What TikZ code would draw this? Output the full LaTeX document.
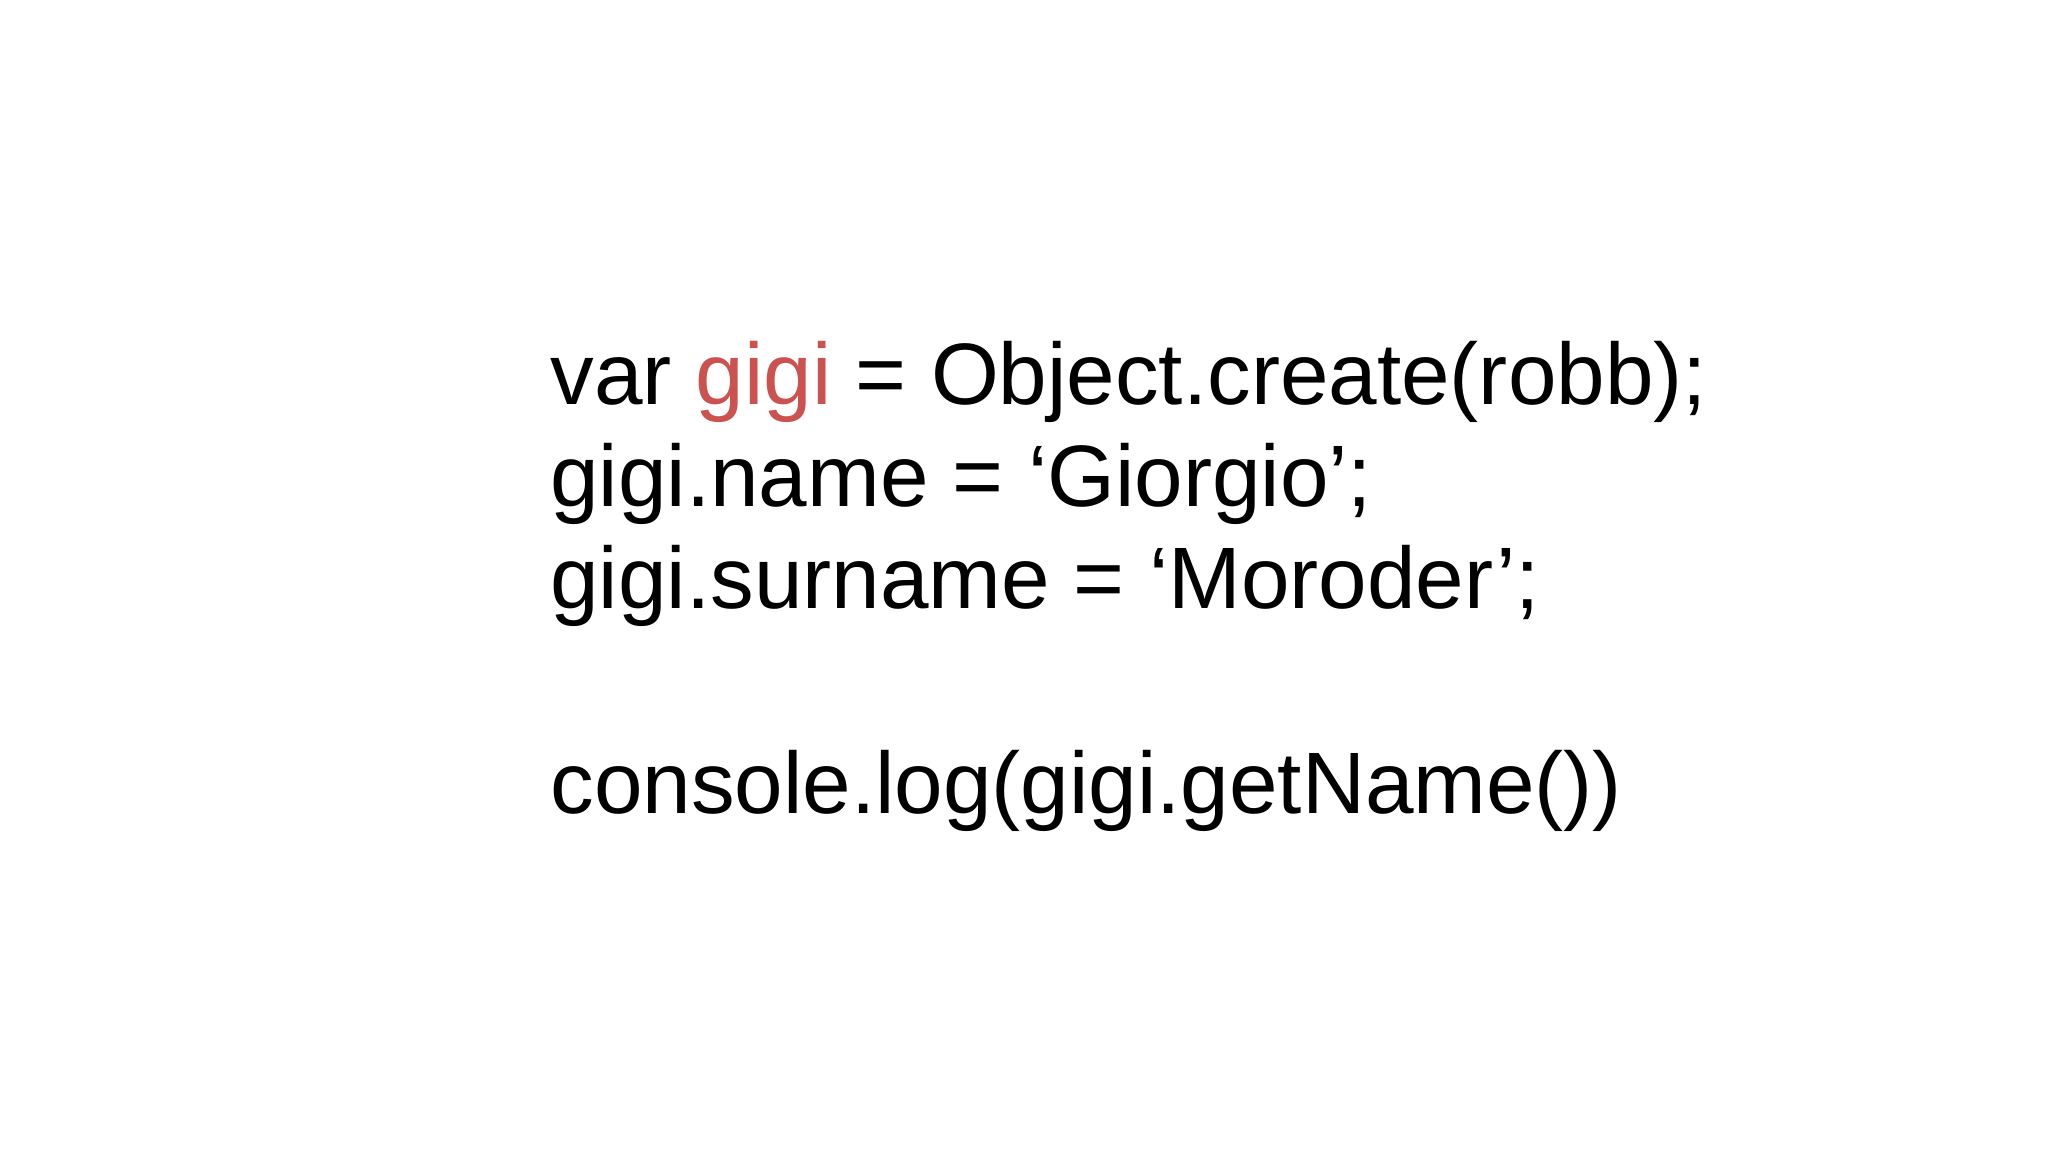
\documentclass[tikz,border=0pt]{standalone}
\usepackage{fontspec}
\setmainfont{Liberation Sans}
\definecolor{gred}{RGB}{204,82,80}
\begin{document}
\begin{tikzpicture}[x=0.5pt,y=-0.5pt,code/.style={anchor=base west,inner sep=0pt,font=\fontsize{33.4pt}{39pt}\selectfont}]
\useasboundingbox[fill=white] (0,0) rectangle (1568,882);
\node[code] (l1) at (421,310) {var \textcolor{gred}{gigi} = Object.create(robb);};
\node[code] (l2) at (421,388) {gigi.name = ‘Giorgio’;};
\node[code] (l3) at (421,466) {gigi.surname = ‘Moroder’;};
\node[code] (l4) at (421,623) {console.log(gigi.getName())};
\end{tikzpicture}
\end{document}
